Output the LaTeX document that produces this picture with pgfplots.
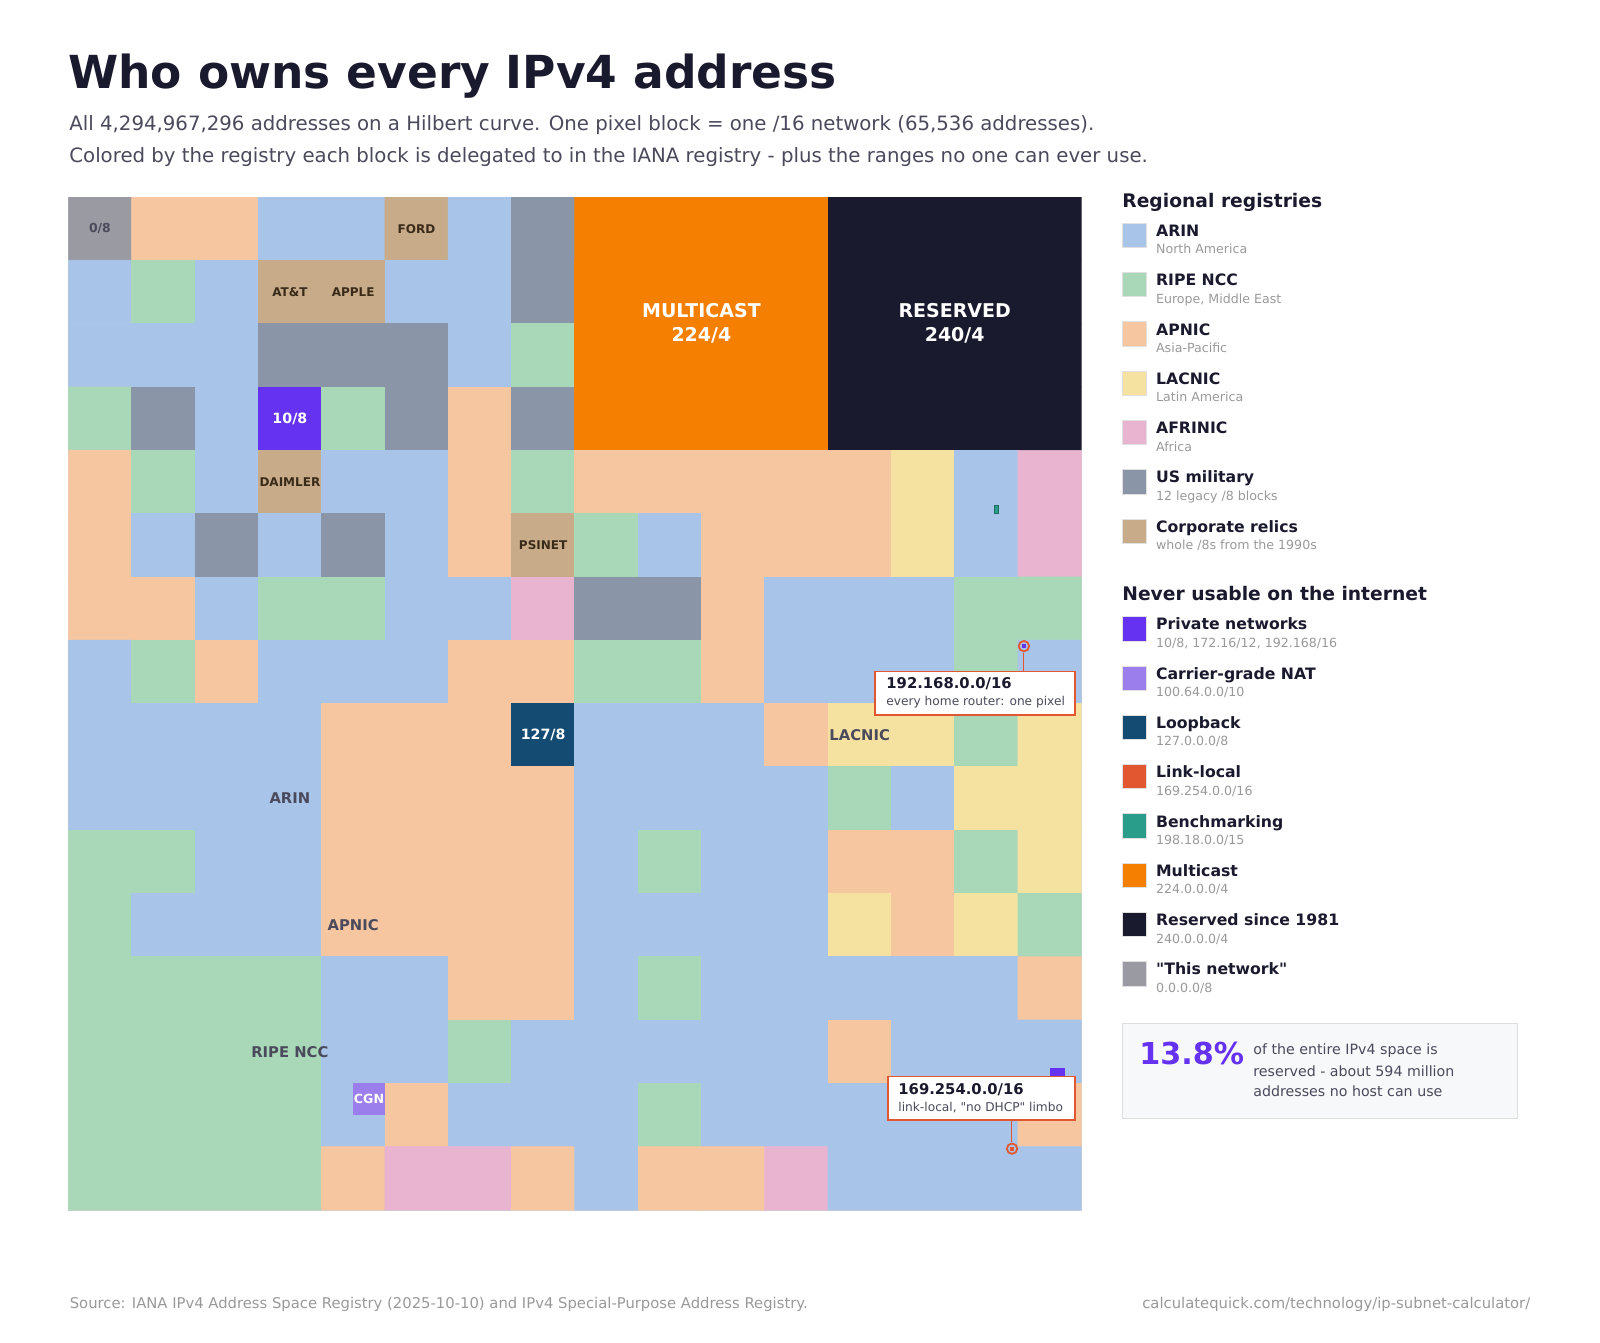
\documentclass[border=0pt]{standalone}
\usepackage{pgfplots}
\pgfplotsset{compat=1.18}
\usepackage{fontspec}
\setmainfont{DejaVu Sans}[Ligatures=TeXOff]
\definecolor{arin}{HTML}{A8C4E8}
\definecolor{ripe}{HTML}{A8D8B8}
\definecolor{apnic}{HTML}{F5C6A0}
\definecolor{lacnic}{HTML}{F6E2A0}
\definecolor{afrinic}{HTML}{E8B4D0}
\definecolor{mil}{HTML}{8A96A8}
\definecolor{corp}{HTML}{C8AC8A}
\definecolor{priv}{HTML}{6432F0}
\definecolor{cgn}{HTML}{9B7DEC}
\definecolor{loop}{HTML}{144B73}
\definecolor{linkl}{HTML}{E35730}
\definecolor{bench}{HTML}{2A9D8A}
\definecolor{mcast}{HTML}{F57F00}
\definecolor{resv}{HTML}{1A1A2E}
\definecolor{thisnet}{HTML}{9A9AA2}
\definecolor{ink}{HTML}{1A1A2E}
\definecolor{subc}{HTML}{4A4A5C}
\definecolor{muted}{HTML}{999999}
\definecolor{corptext}{HTML}{3A2A18}
\definecolor{regtext}{HTML}{4A4A5C}
\definecolor{boxfill}{HTML}{F7F8FA}
\newcommand{\fs}[1]{\fontsize{#1}{#1}\selectfont}
\newcommand{\entry}[4]{%
  \filldraw[fill=#2, draw=black!12, line width=0.5pt] (1122,#1) rectangle (1146.3,#1+24.3);
  \node[anchor=base west, inner sep=0pt, text=ink, font=\fs{7.85pt}\bfseries] at (1155.7,#1+13.1) {#3};
  \node[anchor=base west, inner sep=0pt, text=muted, font=\fs{6.3pt}] at (1155.7,#1+30.6) {#4};
}
\begin{document}
\begin{tikzpicture}
\path[use as bounding box] (0,0) rectangle (800pt,-671.5pt);
\begin{axis}[at={(34.15pt,-98.5pt)}, anchor=north west, scale only axis,
  width=506.5pt, height=506.5pt, xmin=0, xmax=16, ymin=0, ymax=16,
  y dir=reverse, enlargelimits=false, xtick=\empty, ytick=\empty,
  axis line style={draw=black!18, line width=0.5pt},
  colormap={ipv4}{rgb255(0)=(168,196,232) rgb255(1)=(168,216,184) rgb255(2)=(245,198,160)
    rgb255(3)=(246,226,160) rgb255(4)=(232,180,208) rgb255(5)=(138,150,168)
    rgb255(6)=(200,172,138) rgb255(7)=(100,50,240) rgb255(8)=(155,125,236)
    rgb255(9)=(20,75,115) rgb255(10)=(227,87,48) rgb255(11)=(42,157,138)
    rgb255(12)=(245,127,0) rgb255(13)=(26,26,46) rgb255(14)=(154,154,162)},
  colormap access=direct]
% codes: 0 ARIN,1 RIPE,2 APNIC,3 LACNIC,4 AFRINIC,5 military,6 corporate,7 private,9 loopback,12 multicast,13 reserved,14 this network
\addplot[matrix plot*, mesh/cols=16, point meta=explicit, draw=mapped color, line width=0.35pt] coordinates {
(0.5,0.5)[14] (1.5,0.5)[2] (2.5,0.5)[2] (3.5,0.5)[0] (4.5,0.5)[0] (5.5,0.5)[6] (6.5,0.5)[0] (7.5,0.5)[5] (8.5,0.5)[12] (9.5,0.5)[12] (10.5,0.5)[12] (11.5,0.5)[12] (12.5,0.5)[13] (13.5,0.5)[13] (14.5,0.5)[13] (15.5,0.5)[13]
(0.5,1.5)[0] (1.5,1.5)[1] (2.5,1.5)[0] (3.5,1.5)[6] (4.5,1.5)[6] (5.5,1.5)[0] (6.5,1.5)[0] (7.5,1.5)[5] (8.5,1.5)[12] (9.5,1.5)[12] (10.5,1.5)[12] (11.5,1.5)[12] (12.5,1.5)[13] (13.5,1.5)[13] (14.5,1.5)[13] (15.5,1.5)[13]
(0.5,2.5)[0] (1.5,2.5)[0] (2.5,2.5)[0] (3.5,2.5)[5] (4.5,2.5)[5] (5.5,2.5)[5] (6.5,2.5)[0] (7.5,2.5)[1] (8.5,2.5)[12] (9.5,2.5)[12] (10.5,2.5)[12] (11.5,2.5)[12] (12.5,2.5)[13] (13.5,2.5)[13] (14.5,2.5)[13] (15.5,2.5)[13]
(0.5,3.5)[1] (1.5,3.5)[5] (2.5,3.5)[0] (3.5,3.5)[7] (4.5,3.5)[1] (5.5,3.5)[5] (6.5,3.5)[2] (7.5,3.5)[5] (8.5,3.5)[12] (9.5,3.5)[12] (10.5,3.5)[12] (11.5,3.5)[12] (12.5,3.5)[13] (13.5,3.5)[13] (14.5,3.5)[13] (15.5,3.5)[13]
(0.5,4.5)[2] (1.5,4.5)[1] (2.5,4.5)[0] (3.5,4.5)[6] (4.5,4.5)[0] (5.5,4.5)[0] (6.5,4.5)[2] (7.5,4.5)[1] (8.5,4.5)[2] (9.5,4.5)[2] (10.5,4.5)[2] (11.5,4.5)[2] (12.5,4.5)[2] (13.5,4.5)[3] (14.5,4.5)[0] (15.5,4.5)[4]
(0.5,5.5)[2] (1.5,5.5)[0] (2.5,5.5)[5] (3.5,5.5)[0] (4.5,5.5)[5] (5.5,5.5)[0] (6.5,5.5)[2] (7.5,5.5)[6] (8.5,5.5)[1] (9.5,5.5)[0] (10.5,5.5)[2] (11.5,5.5)[2] (12.5,5.5)[2] (13.5,5.5)[3] (14.5,5.5)[0] (15.5,5.5)[4]
(0.5,6.5)[2] (1.5,6.5)[2] (2.5,6.5)[0] (3.5,6.5)[1] (4.5,6.5)[1] (5.5,6.5)[0] (6.5,6.5)[0] (7.5,6.5)[4] (8.5,6.5)[5] (9.5,6.5)[5] (10.5,6.5)[2] (11.5,6.5)[0] (12.5,6.5)[0] (13.5,6.5)[0] (14.5,6.5)[1] (15.5,6.5)[1]
(0.5,7.5)[0] (1.5,7.5)[1] (2.5,7.5)[2] (3.5,7.5)[0] (4.5,7.5)[0] (5.5,7.5)[0] (6.5,7.5)[2] (7.5,7.5)[2] (8.5,7.5)[1] (9.5,7.5)[1] (10.5,7.5)[2] (11.5,7.5)[0] (12.5,7.5)[0] (13.5,7.5)[0] (14.5,7.5)[1] (15.5,7.5)[0]
(0.5,8.5)[0] (1.5,8.5)[0] (2.5,8.5)[0] (3.5,8.5)[0] (4.5,8.5)[2] (5.5,8.5)[2] (6.5,8.5)[2] (7.5,8.5)[9] (8.5,8.5)[0] (9.5,8.5)[0] (10.5,8.5)[0] (11.5,8.5)[2] (12.5,8.5)[3] (13.5,8.5)[3] (14.5,8.5)[1] (15.5,8.5)[3]
(0.5,9.5)[0] (1.5,9.5)[0] (2.5,9.5)[0] (3.5,9.5)[0] (4.5,9.5)[2] (5.5,9.5)[2] (6.5,9.5)[2] (7.5,9.5)[2] (8.5,9.5)[0] (9.5,9.5)[0] (10.5,9.5)[0] (11.5,9.5)[0] (12.5,9.5)[1] (13.5,9.5)[0] (14.5,9.5)[3] (15.5,9.5)[3]
(0.5,10.5)[1] (1.5,10.5)[1] (2.5,10.5)[0] (3.5,10.5)[0] (4.5,10.5)[2] (5.5,10.5)[2] (6.5,10.5)[2] (7.5,10.5)[2] (8.5,10.5)[0] (9.5,10.5)[1] (10.5,10.5)[0] (11.5,10.5)[0] (12.5,10.5)[2] (13.5,10.5)[2] (14.5,10.5)[1] (15.5,10.5)[3]
(0.5,11.5)[1] (1.5,11.5)[0] (2.5,11.5)[0] (3.5,11.5)[0] (4.5,11.5)[2] (5.5,11.5)[2] (6.5,11.5)[2] (7.5,11.5)[2] (8.5,11.5)[0] (9.5,11.5)[0] (10.5,11.5)[0] (11.5,11.5)[0] (12.5,11.5)[3] (13.5,11.5)[2] (14.5,11.5)[3] (15.5,11.5)[1]
(0.5,12.5)[1] (1.5,12.5)[1] (2.5,12.5)[1] (3.5,12.5)[1] (4.5,12.5)[0] (5.5,12.5)[0] (6.5,12.5)[2] (7.5,12.5)[2] (8.5,12.5)[0] (9.5,12.5)[1] (10.5,12.5)[0] (11.5,12.5)[0] (12.5,12.5)[0] (13.5,12.5)[0] (14.5,12.5)[0] (15.5,12.5)[2]
(0.5,13.5)[1] (1.5,13.5)[1] (2.5,13.5)[1] (3.5,13.5)[1] (4.5,13.5)[0] (5.5,13.5)[0] (6.5,13.5)[1] (7.5,13.5)[0] (8.5,13.5)[0] (9.5,13.5)[0] (10.5,13.5)[0] (11.5,13.5)[0] (12.5,13.5)[2] (13.5,13.5)[0] (14.5,13.5)[0] (15.5,13.5)[0]
(0.5,14.5)[1] (1.5,14.5)[1] (2.5,14.5)[1] (3.5,14.5)[1] (4.5,14.5)[0] (5.5,14.5)[2] (6.5,14.5)[0] (7.5,14.5)[0] (8.5,14.5)[0] (9.5,14.5)[1] (10.5,14.5)[0] (11.5,14.5)[0] (12.5,14.5)[0] (13.5,14.5)[0] (14.5,14.5)[0] (15.5,14.5)[2]
(0.5,15.5)[1] (1.5,15.5)[1] (2.5,15.5)[1] (3.5,15.5)[1] (4.5,15.5)[2] (5.5,15.5)[4] (6.5,15.5)[4] (7.5,15.5)[2] (8.5,15.5)[0] (9.5,15.5)[2] (10.5,15.5)[2] (11.5,15.5)[4] (12.5,15.5)[0] (13.5,15.5)[0] (14.5,15.5)[0] (15.5,15.5)[0]
};
% whole blocks drawn in one piece
\addplot[fill=mcast, draw=none] coordinates {(8,0) (12,0) (12,4) (8,4)} -- cycle;
\addplot[fill=resv, draw=none] coordinates {(12,0) (16,0) (16,4) (12,4)} -- cycle;
\addplot[fill=arin, draw=none] coordinates {(12,15) (16,15) (16,16) (12,16)} -- cycle;
% sub-/8 special blocks
\addplot[fill=priv, draw=none] coordinates {(15.5,13.75) (15.75,13.75) (15.75,14) (15.5,14)} -- cycle;
\addplot[fill=cgn, draw=none] coordinates {(4.5,14) (5,14) (5,14.5) (4.5,14.5)} -- cycle;
\addplot[fill=bench, draw=bench!70!black, line width=0.3pt] coordinates {(14.625,4.875) (14.6875,4.875) (14.6875,5) (14.625,5)} -- cycle;
\addplot[fill=priv, draw=none] coordinates {(15.0625,7.0625) (15.125,7.0625) (15.125,7.125) (15.0625,7.125)} -- cycle;
\addplot[fill=linkl, draw=none] coordinates {(14.875,15) (14.9375,15) (14.9375,15.0625) (14.875,15.0625)} -- cycle;
\addplot[only marks, mark=o, mark size=2.6pt, mark options={draw=linkl, line width=0.9pt}] coordinates {(15.094,7.094) (14.906,15.031)};
% labels
\node[font=\fs{6.2pt}\bfseries, text=regtext] at (axis cs:0.5,0.5) {0/8};
\node[font=\fs{6pt}\bfseries, text=corptext] at (axis cs:5.5,0.5) {FORD};
\node[font=\fs{6pt}\bfseries, text=corptext] at (axis cs:3.5,1.5) {AT\&T};
\node[font=\fs{6pt}\bfseries, text=corptext] at (axis cs:4.5,1.5) {APPLE};
\node[font=\fs{6pt}\bfseries, text=corptext] at (axis cs:3.5,4.5) {DAIMLER};
\node[font=\fs{6pt}\bfseries, text=corptext] at (axis cs:7.5,5.5) {PSINET};
\node[font=\fs{7.1pt}\bfseries, text=white] at (axis cs:3.5,3.5) {10/8};
\node[font=\fs{7.1pt}\bfseries, text=white] at (axis cs:7.5,8.5) {127/8};
\node[font=\fs{6.3pt}\bfseries, text=white] at (axis cs:4.75,14.25) {CGN};
\node[font=\fs{9.5pt}\bfseries, text=white] at (axis cs:10,1.79) {MULTICAST};
\node[font=\fs{9.5pt}\bfseries, text=white] at (axis cs:10,2.19) {224/4};
\node[font=\fs{9.5pt}\bfseries, text=white] at (axis cs:14,1.79) {RESERVED};
\node[font=\fs{9.5pt}\bfseries, text=white] at (axis cs:14,2.19) {240/4};
\node[font=\fs{7.4pt}\bfseries, text=regtext] at (axis cs:3.5,9.5) {ARIN};
\node[font=\fs{7.4pt}\bfseries, text=regtext] at (axis cs:4.5,11.5) {APNIC};
\node[font=\fs{7.4pt}\bfseries, text=regtext] at (axis cs:3.5,13.5) {RIPE NCC};
\node[font=\fs{7.4pt}\bfseries, text=regtext] at (axis cs:12.5,8.5) {LACNIC};
\end{axis}
\begin{scope}[x=0.5pt, y=-0.5pt]
% title
\node[anchor=base west, inner sep=0pt, text=ink, font=\fs{22.75pt}\bfseries] at (68,89) {Who owns every IPv4 address};
\node[anchor=base west, inner sep=0pt, text=subc, font=\fs{9.87pt}] at (69,131) {All 4,294,967,296 addresses on a Hilbert curve. One pixel block = one /16 network (65,536 addresses).};
\node[anchor=base west, inner sep=0pt, text=subc, font=\fs{9.87pt}] at (69,162.8) {Colored by the registry each block is delegated to in the IANA registry - plus the ranges no one can ever use.};
% annotations
\draw[linkl, line width=0.6pt] (1023.3,652.5) -- (1023.3,671.7);
\filldraw[fill=white, draw=linkl, line width=0.6pt] (875,671.7) rectangle (1075,715);
\node[anchor=base west, inner sep=0pt, text=ink, font=\fs{7.4pt}\bfseries] at (886,688.4) {192.168.0.0/16};
\node[anchor=base west, inner sep=0pt, text=subc, font=\fs{6.1pt}] at (886,705.5) {every home router: one pixel};
\draw[linkl, line width=0.6pt] (1011.7,1120) -- (1011.7,1141.5);
\filldraw[fill=white, draw=linkl, line width=0.6pt] (888,1076.7) rectangle (1075,1120);
\node[anchor=base west, inner sep=0pt, text=ink, font=\fs{7.4pt}\bfseries] at (898,1094.4) {169.254.0.0/16};
\node[anchor=base west, inner sep=0pt, text=subc, font=\fs{6.1pt}] at (898,1111.8) {link-local, "no DHCP" limbo};
% legend
\node[anchor=base west, inner sep=0pt, text=ink, font=\fs{9.35pt}\bfseries] at (1122,207.5) {Regional registries};
\entry{223.3}{arin}{ARIN}{North America}
\entry{272.6}{ripe}{RIPE NCC}{Europe, Middle East}
\entry{321.9}{apnic}{APNIC}{Asia-Pacific}
\entry{371.2}{lacnic}{LACNIC}{Latin America}
\entry{420.5}{afrinic}{AFRINIC}{Africa}
\entry{469.8}{mil}{US military}{12 legacy /8 blocks}
\entry{519.1}{corp}{Corporate relics}{whole /8s from the 1990s}
\node[anchor=base west, inner sep=0pt, text=ink, font=\fs{9.35pt}\bfseries] at (1122,600.8) {Never usable on the internet};
\entry{616.7}{priv}{Private networks}{10/8, 172.16/12, 192.168/16}
\entry{666.0}{cgn}{Carrier-grade NAT}{100.64.0.0/10}
\entry{715.3}{loop}{Loopback}{127.0.0.0/8}
\entry{764.6}{linkl}{Link-local}{169.254.0.0/16}
\entry{813.9}{bench}{Benchmarking}{198.18.0.0/15}
\entry{863.2}{mcast}{Multicast}{224.0.0.0/4}
\entry{912.5}{resv}{Reserved since 1981}{240.0.0.0/4}
\entry{961.8}{thisnet}{"This network"}{0.0.0.0/8}
% stats box
\filldraw[fill=boxfill, draw=black!13, line width=0.5pt] (1122.3,1023.3) rectangle (1517.7,1118.3);
\node[anchor=base west, inner sep=0pt, text=priv, font=\fs{15.1pt}\bfseries] at (1139,1064.6) {13.8\%};
\node[anchor=base west, inner sep=0pt, text=subc, font=\fs{7.1pt}] at (1253,1054.5) {of the entire IPv4 space is};
\node[anchor=base west, inner sep=0pt, text=subc, font=\fs{7.1pt}] at (1253,1076.0) {reserved - about 594 million};
\node[anchor=base west, inner sep=0pt, text=subc, font=\fs{7.1pt}] at (1253,1096.8) {addresses no host can use};
% footer
\node[anchor=base west, inner sep=0pt, text=muted, font=\fs{7.4pt}] at (69.4,1308.5) {Source: IANA IPv4 Address Space Registry (2025-10-10) and IPv4 Special-Purpose Address Registry.};
\node[anchor=base east, inner sep=0pt, text=muted, font=\fs{7.4pt}] at (1530.6,1308.5) {calculatequick.com/technology/ip-subnet-calculator/};
\end{scope}
\end{tikzpicture}
\end{document}
